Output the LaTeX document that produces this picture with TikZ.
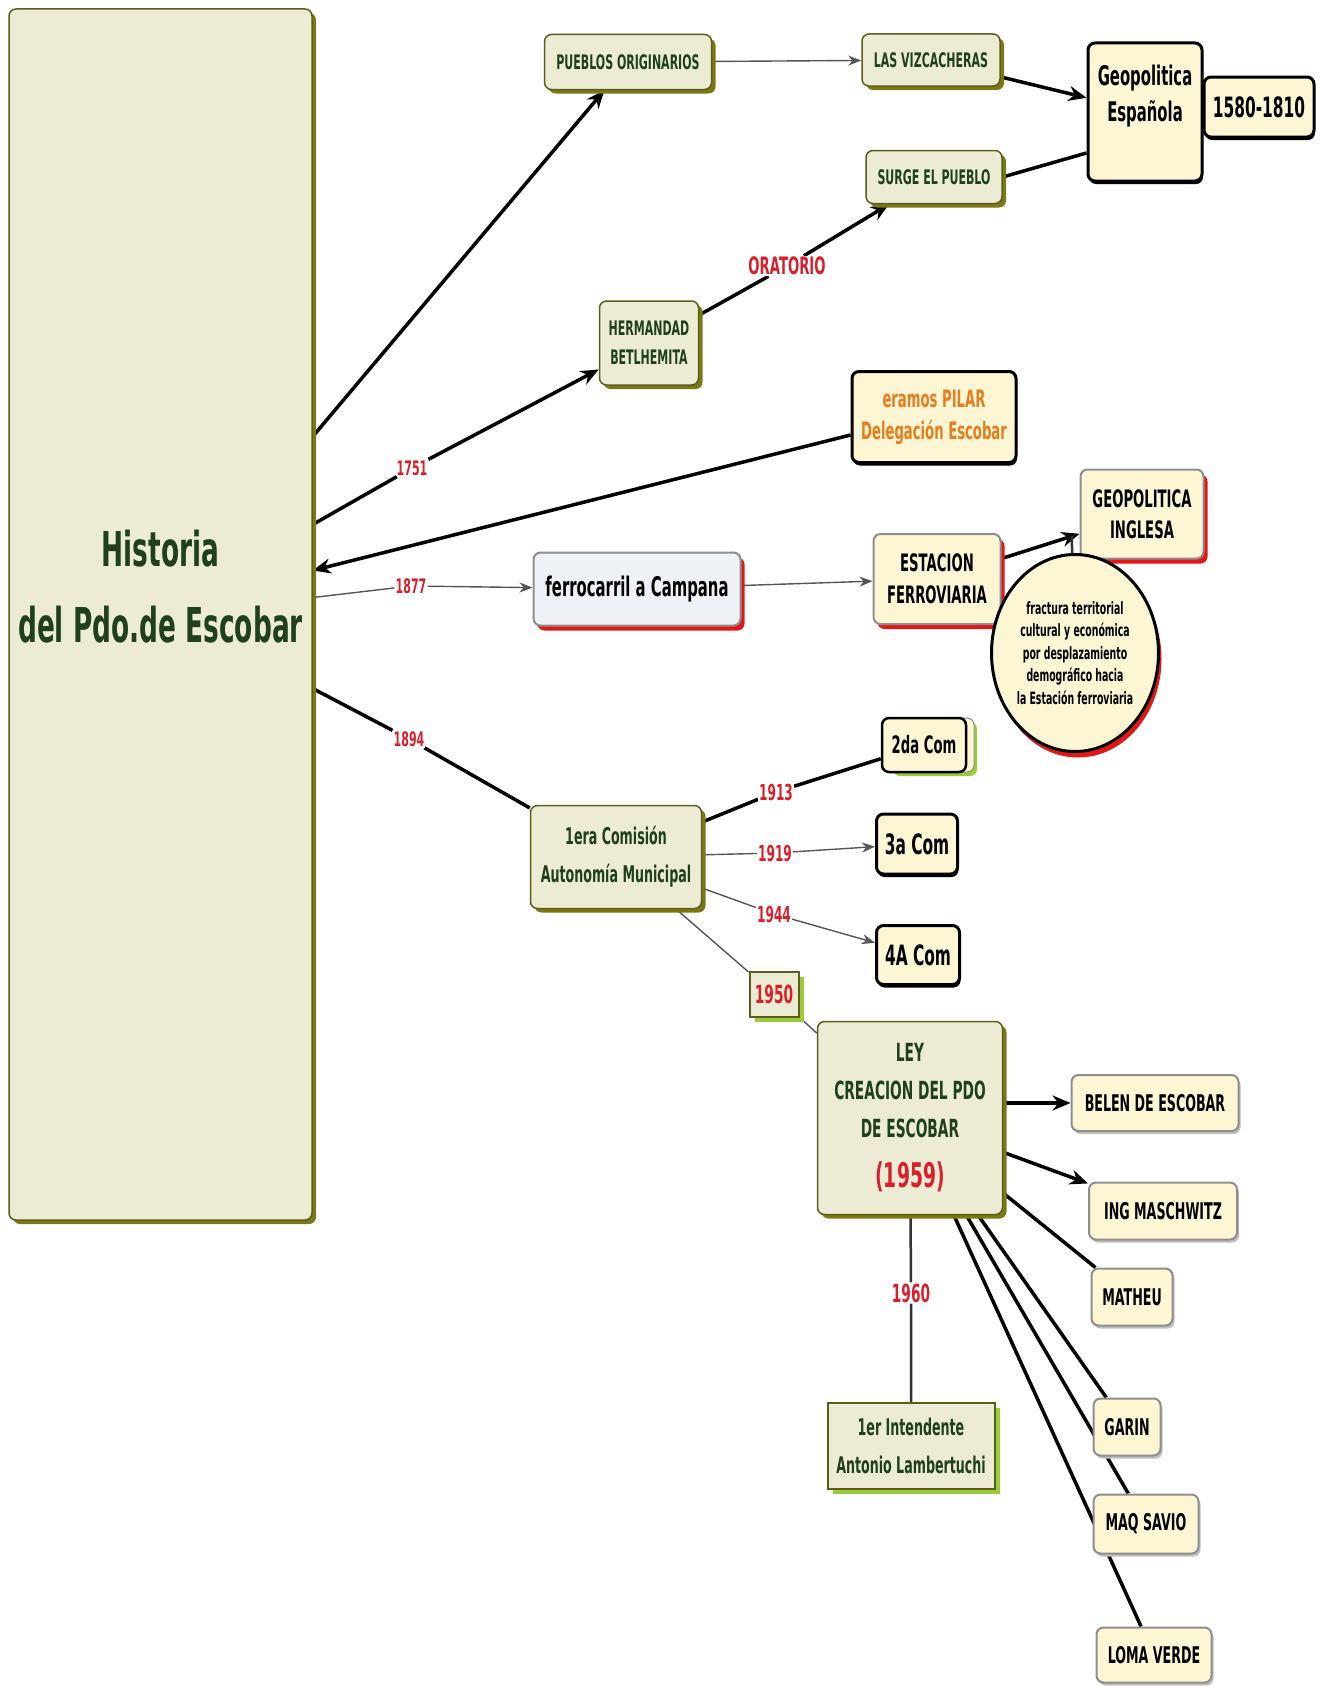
\documentclass[tikz,border=0pt]{standalone}
\usepackage{fontspec}
\setmainfont{DejaVu Sans}[FakeStretch=0.55]
\setsansfont{DejaVu Sans}[FakeStretch=0.55]
\usepackage{tikz}
\usetikzlibrary{positioning, shapes.geometric, shadows, backgrounds, arrows.meta}

\definecolor{olivefill}{HTML}{ECECD4}
\definecolor{olivedraw}{HTML}{5C5C1C}
\definecolor{oliveshade}{HTML}{7A7A14}
\definecolor{greentext}{HTML}{1F3F1F}
\definecolor{paleyellow}{HTML}{FCF6D4}
\definecolor{railfill}{HTML}{EEF2F6}
\definecolor{yearred}{HTML}{D8202C}
\definecolor{pilarorange}{HTML}{E67E1E}
\definecolor{shadered}{HTML}{E01818}
\definecolor{limegreen}{HTML}{9CCB3A}
\definecolor{linkgrey}{HTML}{555555}
\definecolor{boxgrey}{HTML}{8E8E8E}

\newcommand{\setfs}[2]{\fontsize{#1}{#2}\selectfont\bfseries}

\begin{document}
\begin{tikzpicture}[x=1pt, y=-1pt,
  olivebox/.style={draw=olivedraw, line width=1.5pt, fill=olivefill, text=greentext, rounded corners=7pt, align=center, inner sep=0pt, general shadow={fill=oliveshade, shadow xshift=4pt, shadow yshift=-4pt}},
  blackbox/.style={draw=black, line width=3pt, fill=paleyellow, rounded corners=7pt, align=center, inner sep=0pt, general shadow={fill=black, shadow xshift=1pt, shadow yshift=-3pt}},
  redbox/.style={draw=boxgrey, line width=2pt, fill=paleyellow, rounded corners=7pt, align=center, inner sep=0pt, general shadow={fill=shadered, shadow xshift=4pt, shadow yshift=-5pt}},
  greybox/.style={draw=boxgrey, line width=2pt, fill=paleyellow, rounded corners=7pt, inner sep=0pt, general shadow={fill=black!25, shadow xshift=2pt, shadow yshift=-3pt}, font=\setfs{23}{28}},
  squarebox/.style={draw=olivedraw, line width=2pt, fill=olivefill, text=greentext, align=center, inner sep=0pt, general shadow={fill=limegreen, shadow xshift=5pt, shadow yshift=-5pt}},
  stackbox/.style={draw=black, line width=2.5pt, fill=paleyellow, rounded corners=7pt, inner sep=0pt, general shadow={fill=limegreen, shadow xshift=11pt, shadow yshift=-4pt}, general shadow={fill=paleyellow, draw=boxgrey, line width=1pt, shadow xshift=8pt, shadow yshift=0pt}},
  yearlabel/.style={text=yearred, fill=white, inner sep=1pt},
  thickline/.style={line width=3.5pt, black},
  thinline/.style={line width=1.4pt, linkgrey},
  midline/.style={line width=2.5pt, black!80},
  bigtip/.style={-{Stealth[length=18pt, width=15pt]}},
  smalltip/.style={-{Stealth[length=13pt, width=10pt]}}]

% Page size
\useasboundingbox (0, 0) rectangle (1329, 1686);

% Main concept
\node[olivebox, minimum width=303pt, minimum height=1211pt, font=\setfs{48}{76}] (hist) at (160.5, 614.5) {Historia\\del Pdo.de Escobar\\[-20pt]\mbox{}};

% Colonial branch
\node[olivebox, minimum width=167pt, minimum height=55pt, font=\setfs{20}{24}] (pueblos) at (628, 62) {PUEBLOS ORIGINARIOS};
\node[olivebox, minimum width=138pt, minimum height=52pt, font=\setfs{20}{24}] (lasviz) at (931, 60) {LAS VIZCACHERAS};
\node[olivebox, minimum width=136pt, minimum height=53pt, font=\setfs{20}{24}] (surge) at (934, 177) {SURGE EL PUEBLO};
\node[olivebox, minimum width=99pt, minimum height=84pt, font=\setfs{20}{29}] (hermandad) at (649, 343) {HERMANDAD\\BETLHEMITA};
\node[yearlabel, font=\setfs{24}{28}] (oratorio) at (787, 266) {ORATORIO};
\node[yearlabel, font=\setfs{20}{24}] (y1751) at (412, 468) {1751};

% Spanish geopolitics
\node[blackbox, minimum width=114pt, minimum height=138pt, font=\setfs{27}{36}] (geoesp) at (1145, 112) {Geopolitica\\Española\\[2pt]\mbox{}};
\node[blackbox, minimum width=110pt, minimum height=60pt, font=\setfs{28}{32}] (fechas) at (1259, 107) {1580-1810};

% Pilar
\node[blackbox, minimum width=164pt, minimum height=91pt, text=pilarorange, font=\setfs{24}{32}] (pilar) at (934, 417) {eramos PILAR\\Delegación Escobar};

% Railway branch
\node[yearlabel, font=\setfs{20}{24}] (y1877) at (411, 586) {1877};
\node[redbox, fill=railfill, minimum width=207pt, minimum height=73pt, font=\setfs{27}{32}] (ferro) at (637, 589) {ferrocarril a Campana};
\node[redbox, minimum width=127pt, minimum height=90pt, font=\setfs{24}{32}] (estacion) at (937, 579) {ESTACION\\FERROVIARIA};
\node[redbox, minimum width=123pt, minimum height=89pt, font=\setfs{24}{31}] (geoingl) at (1142, 514) {GEOPOLITICA\\INGLESA};
\node[ellipse, draw=black, line width=3pt, fill=paleyellow, general shadow={fill=shadered, shadow xshift=3pt, shadow yshift=-6pt}, minimum width=167pt, minimum height=197pt, inner sep=0pt, align=center, font=\setfs{17}{22.5}] (fractura) at (1075, 653) {fractura territorial\\cultural y económica\\por desplazamiento\\demográfico hacia\\la Estación ferroviaria};

% Municipal commissions
\node[yearlabel, font=\setfs{20}{24}] (y1894) at (409, 739) {1894};
\node[olivebox, minimum width=171pt, minimum height=103pt, font=\setfs{23}{38}] (era1) at (616, 857) {1era Comisión\\Autonomía Municipal};
\node[stackbox, minimum width=84pt, minimum height=54pt, font=\setfs{24}{28}] (com2) at (924, 745) {2da Com};
\node[blackbox, minimum width=81pt, minimum height=60pt, font=\setfs{28}{32}] (com3) at (917, 844) {3a Com};
\node[blackbox, minimum width=83pt, minimum height=59pt, font=\setfs{28}{32}] (com4) at (918, 955) {4A Com};
\node[yearlabel, font=\setfs{22}{26}] (y1913) at (776, 792) {1913};
\node[yearlabel, font=\setfs{22}{26}] (y1919) at (775, 853) {1919};
\node[yearlabel, font=\setfs{22}{26}] (y1944) at (774, 914) {1944};
\node[squarebox, minimum width=49pt, minimum height=45pt, text=yearred, font=\setfs{25}{30}] (y1950) at (774, 994) {1950};

% Creation of the district
\node[olivebox, minimum width=185pt, minimum height=193pt, font=\setfs{25}{38}] (ley) at (910, 1118) {LEY\\CREACION DEL PDO\\DE ESCOBAR\\[12pt]{\color{yearred}\setfs{34}{40}(1959)}};
\node[yearlabel, font=\setfs{25}{30}] (y1960) at (911, 1293) {1960};
\node[squarebox, minimum width=167pt, minimum height=86pt, font=\setfs{23}{38}] (intend) at (911, 1446) {1er Intendente\\Antonio Lambertuchi};

% Localities
\node[greybox, minimum width=167pt, minimum height=56pt] (belen) at (1155, 1103) {BELEN DE ESCOBAR};
\node[greybox, minimum width=148pt, minimum height=57pt] (ing) at (1163, 1211) {ING MASCHWITZ};
\node[greybox, minimum width=81pt, minimum height=57pt] (matheu) at (1132, 1297) {MATHEU};
\node[greybox, minimum width=67pt, minimum height=57pt] (garin) at (1127, 1427) {GARIN};
\node[greybox, minimum width=105pt, minimum height=59pt] (maq) at (1146, 1524) {MAQ SAVIO};
\node[greybox, minimum width=115pt, minimum height=55pt] (loma) at (1154, 1655) {LOMA VERDE};

% Links
\begin{pgfonlayer}{background}
\draw[thickline, bigtip] ([yshift=178pt]hist.east) -- (pueblos);
\draw[thickline, bigtip] ([yshift=90pt]hist.east) -- (y1751) -- (hermandad);
\draw[thickline, bigtip] (hermandad) -- (oratorio) -- (surge);
\draw[thinline, smalltip] (pueblos) -- (lasviz);
\draw[thickline, bigtip] (lasviz) -- (geoesp);
\draw[thickline] (surge.east) -- ([yshift=-41pt]geoesp.west);
\draw[thickline, bigtip] ([yshift=-18pt]pilar.west) -- ([yshift=44pt]hist.east);
\draw[thinline, smalltip] ([yshift=17pt]hist.east) -- (y1877) -- (ferro);
\draw[thinline, smalltip] (ferro) -- (estacion);
\draw[thickline, bigtip] (estacion) -- coordinate[pos=0.9] (lnk) (geoingl);
\draw[midline] (fractura) -- (lnk);
\draw[thickline] ([yshift=-74pt]hist.east) -- (y1894) -- (era1);
\draw[thickline] (era1) -- (y1913) -- (com2);
\draw[thinline, smalltip] (era1) -- (y1919) -- (com3);
\draw[thinline, smalltip] (era1) -- (y1944) -- (com4);
\draw[thinline] (era1) -- (y1950) -- (ley);
\draw[thickline, bigtip] (ley.east |- belen.west) -- (belen);
\draw[thickline, bigtip] (ley) -- (ing);
\foreach \town in {matheu, garin, maq, loma}
  \draw[thickline] (ley) -- (\town);
\draw[midline] (ley) -- (y1960) -- (intend);
\end{pgfonlayer}

\end{tikzpicture}
\end{document}
